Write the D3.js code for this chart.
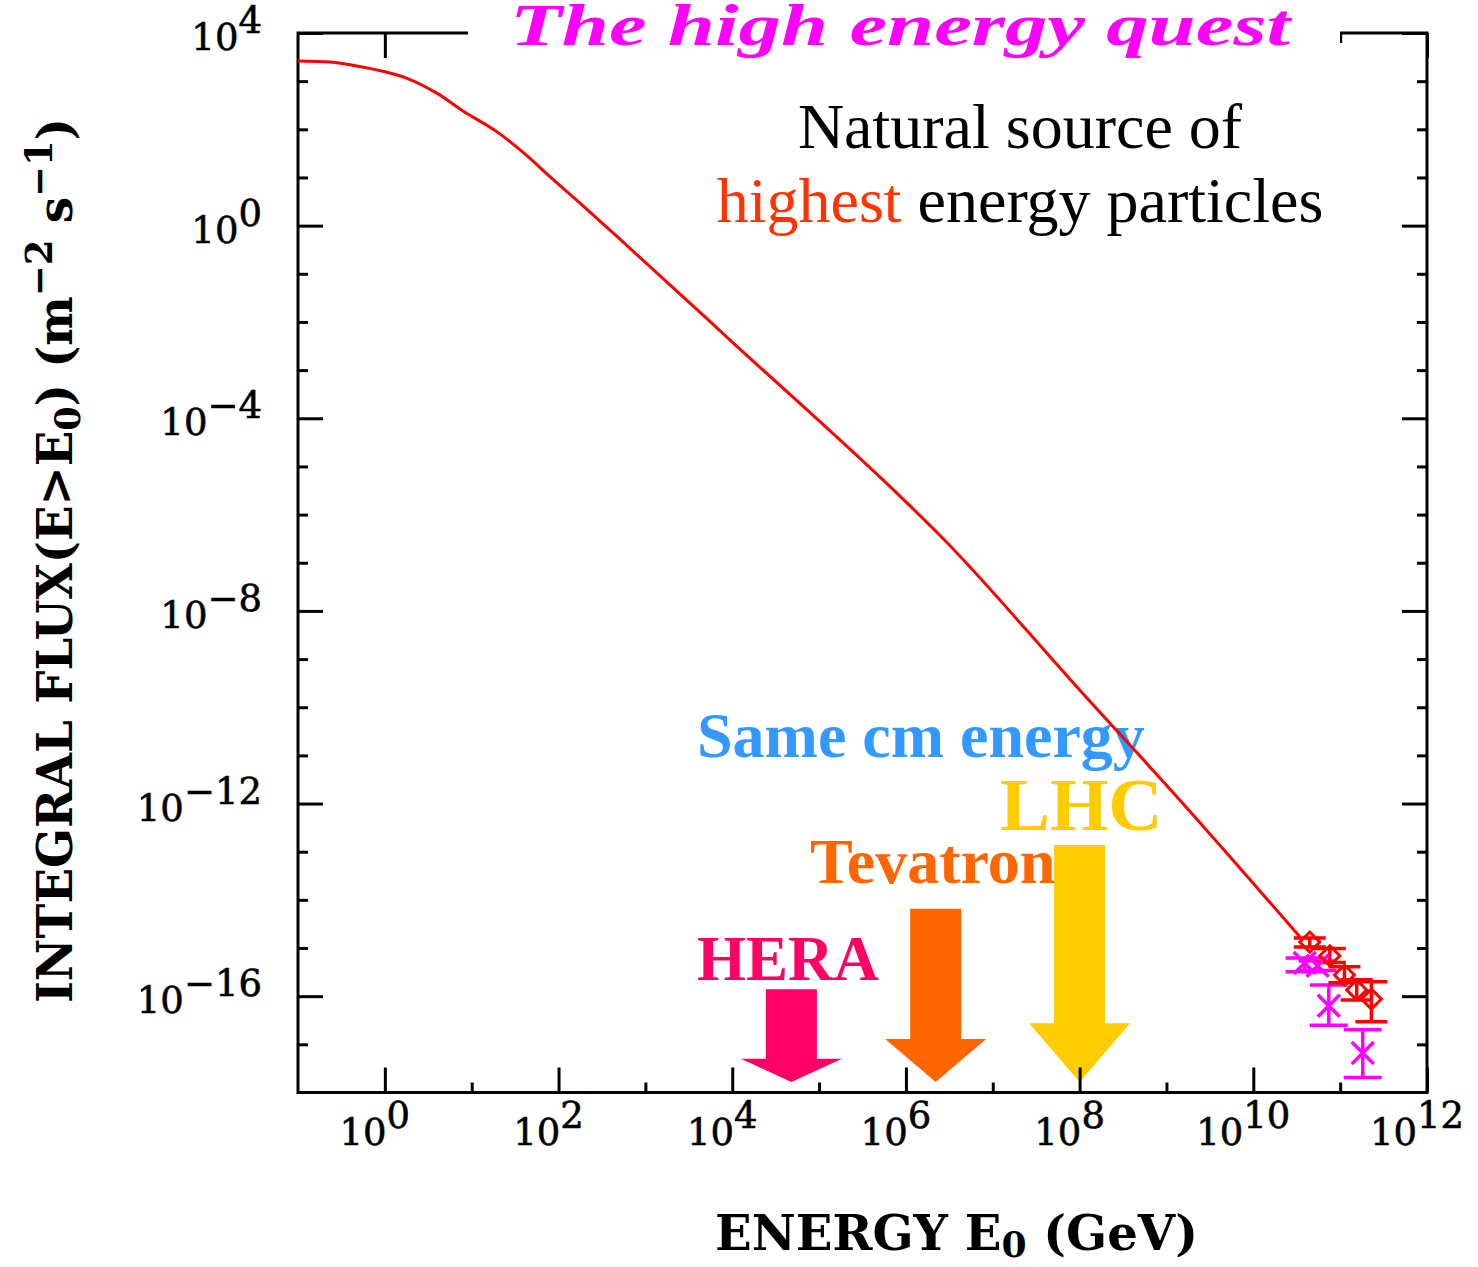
<!DOCTYPE html>
<html>
<head>
<meta charset="utf-8">
<script src="https://cdn.jsdelivr.net/npm/d3@7"></script>
<style>
  html, body { margin: 0; padding: 0; background: #fff; }
  svg { display: block; }
</style>
</head>
<body>
<svg id="chart" width="1478" height="1267"></svg>
<script>
// Integral cosmic-ray flux F(E > E0) versus threshold energy E0 (GeV)
const curveEnergy = [0.1, 0.233, 0.575, 1, 1.8, 4.0, 8.2, 19.6, 40, 80, 178, 474,
                     1.03e4, 1.02e6, 2.44e6, 1.0e8, 1.43e9, 3.44e10];
const curveFlux   = [2620, 2495, 1936, 1570, 1146, 558, 232, 88.5, 32.1, 10.35, 2.9, 0.589,
                     3.65e-3, 1.77e-6, 3.77e-7, 2.28e-10, 1.17e-12, 1.7e-15];

// Highest-energy air-shower measurements (open diamonds)
const diamondEnergy = [4.47e10, 7.6e10, 1.12e11, 1.55e11, 2.29e11];
const diamondFlux   = [1.33e-15, 6.9e-16, 2.75e-16, 1.35e-16, 8.7e-17];
const diamondHigh   = [1.62e-15, 9.8e-16, 4.07e-16, 2.19e-16, 2.0e-16];
const diamondLow    = [1.05e-15, 5.0e-16, 1.9e-16, 8.3e-17, 2.95e-17];

// Second experiment (crosses)
const crossEnergy = [3.9e10, 5.5e10, 7.4e10, 1.82e11];
const crossFlux   = [4.9e-16, 4.3e-16, 6.3e-17, 6.6e-18];
const crossHigh   = [6.2e-16, 5.4e-16, 1.7e-16, 2.0e-17];
const crossLow    = [3.2e-16, 3.4e-16, 2.5e-17, 2.04e-18];

// Fixed-target energy equivalent to each collider's centre-of-mass energy
const colliderNames  = ["HERA", "Tevatron", "LHC"];
const colliderEnergy = [4.8e4, 2.2e6, 1.0e8];
const arrowTopFlux   = [1.4e-16, 6.5e-15, 1.38e-13];
const arrowHeadFlux  = [5.0e-18, 1.29e-17, 2.75e-17];
const arrowTipFlux   = [1.66e-18, 1.66e-18, 1.66e-18];

// Axis ticks
const xMajorTicks = [1e0, 1e2, 1e4, 1e6, 1e8, 1e10, 1e12];
const xMinorTicks = [1e1, 1e3, 1e5, 1e7, 1e9, 1e11];
const yMajorTicks = [1e-16, 1e-12, 1e-8, 1e-4, 1e0, 1e4];
const yMinorTicks = [1e-17, 1e-15, 1e-14, 1e-13, 1e-11, 1e-10, 1e-9, 1e-7, 1e-6, 1e-5,
                     1e-3, 1e-2, 1e-1, 1e1, 1e2, 1e3];
const xTickExponents = ["0", "2", "4", "6", "8", "10", "12"];
const yTickExponents = ["4", "0", "\u22124", "\u22128", "\u221212", "\u221216"];

const svg = d3.select("#chart");
const plot = { left: 298, right: 1427, top: 33, bottom: 1092.5 };

const x = d3.scaleLog().domain([1e-1, 1e12]).range([plot.left, plot.right]);
const y = d3.scaleLog().domain([1e-18, 1e4]).range([plot.bottom, plot.top]);

const serif = "'Liberation Serif', 'Times New Roman', serif";
const slab = "'DejaVu Serif', serif";

// ---- annotation texts (under the curve) ----
function label(text, xPos, yPos, color, size) {
  svg.append("text")
    .attr("x", xPos).attr("y", yPos)
    .attr("font-family", serif).attr("font-weight", "bold")
    .attr("font-size", size).attr("fill", color)
    .text(text);
}
label("Same cm energy", 697, 757, "#3399ff", 64);
label("LHC", 1000, 830, "#ffcc00", 75);
label("Tevatron", 810, 883, "#ff6600", 64);
label("HERA", 697, 980, "#ff0066", 63);

// ---- collider arrows ----
const arrowColors = ["#ff0066", "#ff6600", "#ffcc00"];
const shaftHalf = 25.5, headHalf = 50.5;
colliderNames.forEach((name, i) => {
  const cx = x(colliderEnergy[i]);
  const yTop = y(arrowTopFlux[i]);
  const yHead = y(arrowHeadFlux[i]);
  const yTip = y(arrowTipFlux[i]);
  const pts = [
    [cx - shaftHalf, yTop], [cx + shaftHalf, yTop], [cx + shaftHalf, yHead],
    [cx + headHalf, yHead], [cx, yTip], [cx - headHalf, yHead], [cx - shaftHalf, yHead]
  ];
  svg.append("polygon")
    .attr("points", pts.map(p => p.join(",")).join(" "))
    .attr("fill", arrowColors[i]);
});

// ---- frame and ticks ----
function ticks(axisGen, tx, ty) {
  const g = svg.append("g").attr("transform", `translate(${tx},${ty})`).call(axisGen);
  g.select(".domain").remove();
  g.selectAll("text").remove();
  g.selectAll("line").attr("stroke", "#000").attr("stroke-width", 3);
}
ticks(d3.axisBottom(x).tickValues(xMajorTicks).tickSize(-25).tickFormat(""), 0, plot.bottom);
ticks(d3.axisBottom(x).tickValues(xMinorTicks).tickSize(-10).tickFormat(""), 0, plot.bottom);
ticks(d3.axisTop(x).tickValues(xMajorTicks).tickSize(-25).tickFormat(""), 0, plot.top);
ticks(d3.axisTop(x).tickValues(xMinorTicks).tickSize(-10).tickFormat(""), 0, plot.top);
ticks(d3.axisLeft(y).tickValues(yMajorTicks).tickSize(-25).tickFormat(""), plot.left, 0);
ticks(d3.axisLeft(y).tickValues(yMinorTicks).tickSize(-10).tickFormat(""), plot.left, 0);
ticks(d3.axisRight(y).tickValues(yMajorTicks).tickSize(-25).tickFormat(""), plot.right, 0);
ticks(d3.axisRight(y).tickValues(yMinorTicks).tickSize(-10).tickFormat(""), plot.right, 0);

svg.append("rect")
  .attr("x", plot.left).attr("y", plot.top)
  .attr("width", plot.right - plot.left).attr("height", plot.bottom - plot.top)
  .attr("fill", "none").attr("stroke", "#000").attr("stroke-width", 3);

// ---- tick labels ----
xMajorTicks.forEach((v, i) => {
  const t = svg.append("text")
    .attr("x", x(v) - 10).attr("y", 1145)
    .attr("text-anchor", "middle")
    .attr("font-family", slab).attr("font-size", 37).attr("fill", "#000")
    .attr("stroke", "#000").attr("stroke-width", 0.6);
  t.append("tspan").text("10");
  t.append("tspan").attr("dy", -17).text(xTickExponents[i]);
});
yMajorTicks.slice().reverse().forEach((v, i) => {
  const t = svg.append("text")
    .attr("x", 262).attr("y", y(v) + 17)
    .attr("text-anchor", "end")
    .attr("font-family", slab).attr("font-size", 37).attr("fill", "#000")
    .attr("stroke", "#000").attr("stroke-width", 0.6);
  t.append("tspan").text("10");
  t.append("tspan").attr("dy", -17).text(yTickExponents[i]);
});

// ---- axis titles ----
const xTitle = svg.append("text")
  .attr("x", 715).attr("y", 1250)
  .attr("font-family", slab).attr("font-weight", "bold")
  .attr("font-size", 48).attr("fill", "#000")
  .attr("textLength", 483).attr("lengthAdjust", "spacingAndGlyphs");
xTitle.append("tspan").text("ENERGY E");
xTitle.append("tspan").attr("font-size", 36).attr("dy", 7).text("0");
xTitle.append("tspan").attr("dy", -7).text(" (GeV)");

const yTitle = svg.append("text")
  .attr("transform", "translate(72,1003) rotate(-90)")
  .attr("font-family", slab).attr("font-weight", "bold")
  .attr("font-size", 48).attr("fill", "#000")
  .attr("textLength", 885).attr("lengthAdjust", "spacingAndGlyphs");
yTitle.append("tspan").text("INTEGRAL FLUX(E>E");
yTitle.append("tspan").attr("font-size", 36).attr("dy", 8).text("0");
yTitle.append("tspan").attr("dy", -8).text(") (m");
yTitle.append("tspan").attr("font-size", 38).attr("dy", -20).text("\u22122");
yTitle.append("tspan").attr("dy", 20).text(" s");
yTitle.append("tspan").attr("font-size", 38).attr("dy", -20).text("\u22121");
yTitle.append("tspan").attr("dy", 20).text(")");

// ---- flux curve ----
const line = d3.line()
  .x(d => x(d[0])).y(d => y(d[1]))
  .curve(d3.curveMonotoneX);
svg.append("path")
  .datum(curveEnergy.map((e, i) => [e, curveFlux[i]]))
  .attr("d", line)
  .attr("fill", "none").attr("stroke", "#ff0000").attr("stroke-width", 3);

// ---- data points with error bars ----
function errorBars(energy, hi, lo, color, capHalf) {
  energy.forEach((e, i) => {
    const cx = x(e);
    const g = svg.append("g").attr("stroke", color).attr("stroke-width", 3.5).attr("fill", "none");
    g.append("line").attr("x1", cx).attr("x2", cx).attr("y1", y(hi[i])).attr("y2", y(lo[i]));
    g.append("line").attr("x1", cx - capHalf).attr("x2", cx + capHalf).attr("y1", y(hi[i])).attr("y2", y(hi[i]));
    g.append("line").attr("x1", cx - capHalf).attr("x2", cx + capHalf).attr("y1", y(lo[i])).attr("y2", y(lo[i]));
  });
}
errorBars(crossEnergy, crossHigh, crossLow, "#ff00ff", 19);
errorBars(diamondEnergy, diamondHigh, diamondLow, "#ff0000", 16);

crossEnergy.forEach((e, i) => {
  const cx = x(e), cy = y(crossFlux[i]), s = 11;
  svg.append("path")
    .attr("d", `M${cx - s},${cy - s}L${cx + s},${cy + s}M${cx - s},${cy + s}L${cx + s},${cy - s}`)
    .attr("stroke", "#ff00ff").attr("stroke-width", 3.5).attr("fill", "none");
});
diamondEnergy.forEach((e, i) => {
  const cx = x(e), cy = y(diamondFlux[i]), s = 10;
  svg.append("path")
    .attr("d", `M${cx},${cy - s}L${cx + s},${cy}L${cx},${cy + s}L${cx - s},${cy}Z`)
    .attr("stroke", "#ff0000").attr("stroke-width", 3).attr("fill", "none");
});

// ---- title and caption ----
svg.append("rect").attr("x", 468).attr("y", 0).attr("width", 872).attr("height", 62).attr("fill", "#fff");
svg.append("text")
  .attr("x", 510).attr("y", 45)
  .attr("font-family", serif).attr("font-weight", "bold").attr("font-style", "italic")
  .attr("font-size", 60).attr("fill", "#ff00ff")
  .attr("textLength", 780).attr("lengthAdjust", "spacingAndGlyphs")
  .text("The high energy quest");

svg.append("text")
  .attr("x", 1020).attr("y", 148).attr("text-anchor", "middle")
  .attr("font-family", serif).attr("font-size", 64).attr("fill", "#000")
  .text("Natural source of");
const cap2 = svg.append("text")
  .attr("x", 1020).attr("y", 222).attr("text-anchor", "middle")
  .attr("font-family", serif).attr("font-size", 64).attr("fill", "#000");
cap2.append("tspan").attr("fill", "#ff3300").text("highest");
cap2.append("tspan").text(" energy particles");
</script>
</body>
</html>
